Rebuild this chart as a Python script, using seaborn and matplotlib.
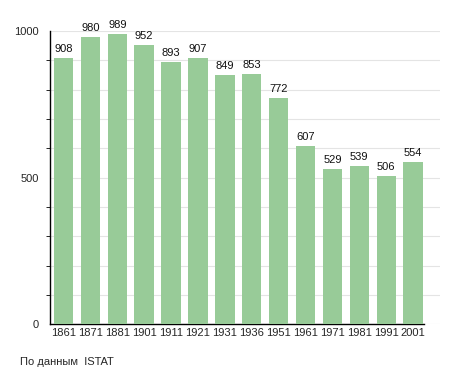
import matplotlib
matplotlib.use('Agg')
import matplotlib.pyplot as plt
import seaborn as sns
import pandas as pd
from matplotlib.ticker import MultipleLocator

years = ['1861', '1871', '1881', '1901', '1911', '1921', '1931', '1936',
         '1951', '1961', '1971', '1981', '1991', '2001']
population = [908, 980, 989, 952, 893, 907, 849, 853, 772, 607, 529, 539, 506, 554]

df = pd.DataFrame({'year': years, 'pop': population})

sns.set_theme(style="white")
plt.rcParams['font.family'] = ['Liberation Sans', 'DejaVu Sans']

fig = plt.figure(figsize=(4.55, 3.73), dpi=100)
ax = fig.add_axes([0.11, 0.131, 0.857, 0.786])

sns.barplot(data=df, x='year', y='pop', color='#98cb98', width=0.72,
            saturation=1, linewidth=0, ax=ax, zorder=3)

for i, v in enumerate(population):
    ax.text(i, v + 14, str(v), ha='center', va='bottom', fontsize=8, color='#111111')

ax.set_ylim(0, 1000)
ax.set_xlim(-0.5, 14.0)
ax.yaxis.set_major_locator(MultipleLocator(500))
ax.yaxis.set_minor_locator(MultipleLocator(100))
ax.grid(axis='y', which='both', color='#e4e4e4', linewidth=0.8, zorder=0)
ax.set_axisbelow(True)

for s in ['top', 'right']:
    ax.spines[s].set_visible(False)
for s in ['left', 'bottom']:
    ax.spines[s].set_color('black')
    ax.spines[s].set_linewidth(1)
ax.spines['bottom'].set_bounds(-0.5, 13.4)

ax.tick_params(axis='y', which='major', length=5, width=0.8, color='black', labelsize=8, pad=3)
ax.tick_params(axis='y', which='minor', length=3, width=0.6, color='black', left=True)
ax.tick_params(axis='x', length=0, labelsize=8, pad=3)
ax.set_xlabel('')
ax.set_ylabel('')

fig.text(20 / 455, 1 - 362 / 373, 'По данным  ISTAT', fontsize=8, va='center', ha='left')

fig.savefig('out.png', dpi=100)
